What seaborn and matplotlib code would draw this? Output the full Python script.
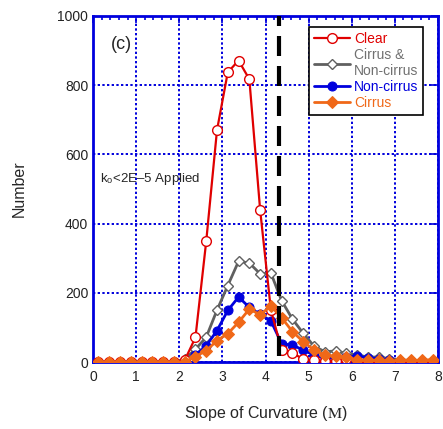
import numpy as np
import pandas as pd
import matplotlib
matplotlib.use("Agg")
import matplotlib.pyplot as plt
import seaborn as sns
from matplotlib.ticker import MultipleLocator

sns.set_style("white")
plt.rcParams['font.family'] = ['Liberation Sans', 'DejaVu Sans']
plt.rcParams['mathtext.fontset'] = 'stix'

slope = [0.125 + 0.25 * i for i in range(32)]
clear = [0, 0, 0, 0, 0, 0, 0, 0, 5, 71, 349, 670, 837, 871, 817, 440,
         150, 35, 27, 8, 5, 2, 3, 10, 2, 1, 0, 0, 0, 0, 0, 0]
both = [0, 0, 0, 0, 0, 0, 0, 0, 8, 37, 72, 150, 221, 291, 286, 255,
        257, 177, 124, 83, 46, 30, 32, 25, 20, 15, 14, 10, 6, 5, 4, 3]
noncirrus = [0, 0, 0, 0, 0, 0, 0, 0, 4, 20, 47, 91, 149, 188, 158, 138,
             119, 53, 49, 35, 20, 12, 12, 15, 18, 12, 10, 6, 4, 3, 3, 2]
cirrus = [0, 0, 0, 0, 0, 0, 0, 0, 0, 16, 33, 62, 82, 115, 153, 137,
          162, 128, 88, 59, 35, 20, 17, 14, 6, 5, 5, 3, 5, 5, 5, 7]
threshold = 4.32

fig = plt.figure(figsize=(4.43, 4.29), dpi=100)
ax = fig.add_axes([0.21, 0.156, 0.7787, 0.807])

blue = '#0000dd'
red = '#e00000'
gray = '#606060'
orange = '#f06818'

sns.lineplot(x=slope, y=both, ax=ax, color=gray, lw=2, marker='D', markersize=5.5,
             markerfacecolor='white', markeredgecolor=gray, markeredgewidth=1.0,
             label='Cirrus &\nNon-cirrus', zorder=3)
sns.lineplot(x=slope, y=noncirrus, ax=ax, color=blue, lw=2, marker='o', markersize=6.5,
             markerfacecolor=blue, markeredgecolor=blue, label='Non-cirrus', zorder=4)
sns.lineplot(x=slope, y=clear, ax=ax, color=red, lw=1.6, marker='o', markersize=7,
             markerfacecolor='white', markeredgecolor=red, markeredgewidth=1.0,
             label='Clear', zorder=5)
sns.lineplot(x=slope, y=cirrus, ax=ax, color=orange, lw=2, marker='D', markersize=6,
             markerfacecolor=orange, markeredgecolor=orange, label='Cirrus', zorder=6)

ax.axvline(threshold, ymin=0.018, ymax=1, color='black', lw=3, dashes=(4.8, 2.4), zorder=7)

ax.set_xlim(0, 8)
ax.set_ylim(0, 1000)
ax.xaxis.set_major_locator(MultipleLocator(1))
ax.xaxis.set_minor_locator(MultipleLocator(0.2))
ax.yaxis.set_major_locator(MultipleLocator(200))
ax.grid(True, which='major', color=blue, ls=(0, (1.2, 1.2)), lw=1.4)
ax.tick_params(which='both', direction='in', top=True, right=True, color=blue,
               labelsize=10, labelcolor='#222222')
ax.tick_params(which='major', length=5, width=1.2)
ax.tick_params(which='minor', length=3, width=1.2)
ax.tick_params(axis='x', pad=6)
for s in ax.spines.values():
    s.set_color(blue)
    s.set_linewidth(2)

ax.set_xlabel(r'Slope of Curvature ($\mathrm{M}$)', fontsize=11.5, labelpad=14)
ax.set_ylabel('Number', fontsize=11.5, labelpad=22)

ax.text(0.65, 918, '(c)', fontsize=13, ha='center', va='center')
ax.text(0.17, 528, r'k$_\mathregular{o}$<2E–5 Applied', fontsize=9.5, ha='left', va='center')

h, l = ax.get_legend_handles_labels()
order = [l.index('Clear'), l.index('Cirrus &\nNon-cirrus'), l.index('Non-cirrus'), l.index('Cirrus')]
leg = ax.legend([h[i] for i in order], [l[i] for i in order], loc='upper right',
                bbox_to_anchor=(0.957, 0.968), borderaxespad=0, fontsize=10, frameon=True,
                fancybox=False, edgecolor='black', framealpha=1, handlelength=2.6,
                handletextpad=0.3, borderpad=0.35, labelspacing=0.15, labelcolor='linecolor')
leg.get_frame().set_linewidth(1.2)
leg.set_zorder(10)
for t in leg.get_texts():
    t.set_multialignment('left')
    if t.get_text().startswith('Cirrus &'):
        t.set_color('#707070')

fig.savefig('out.png', dpi=100)
